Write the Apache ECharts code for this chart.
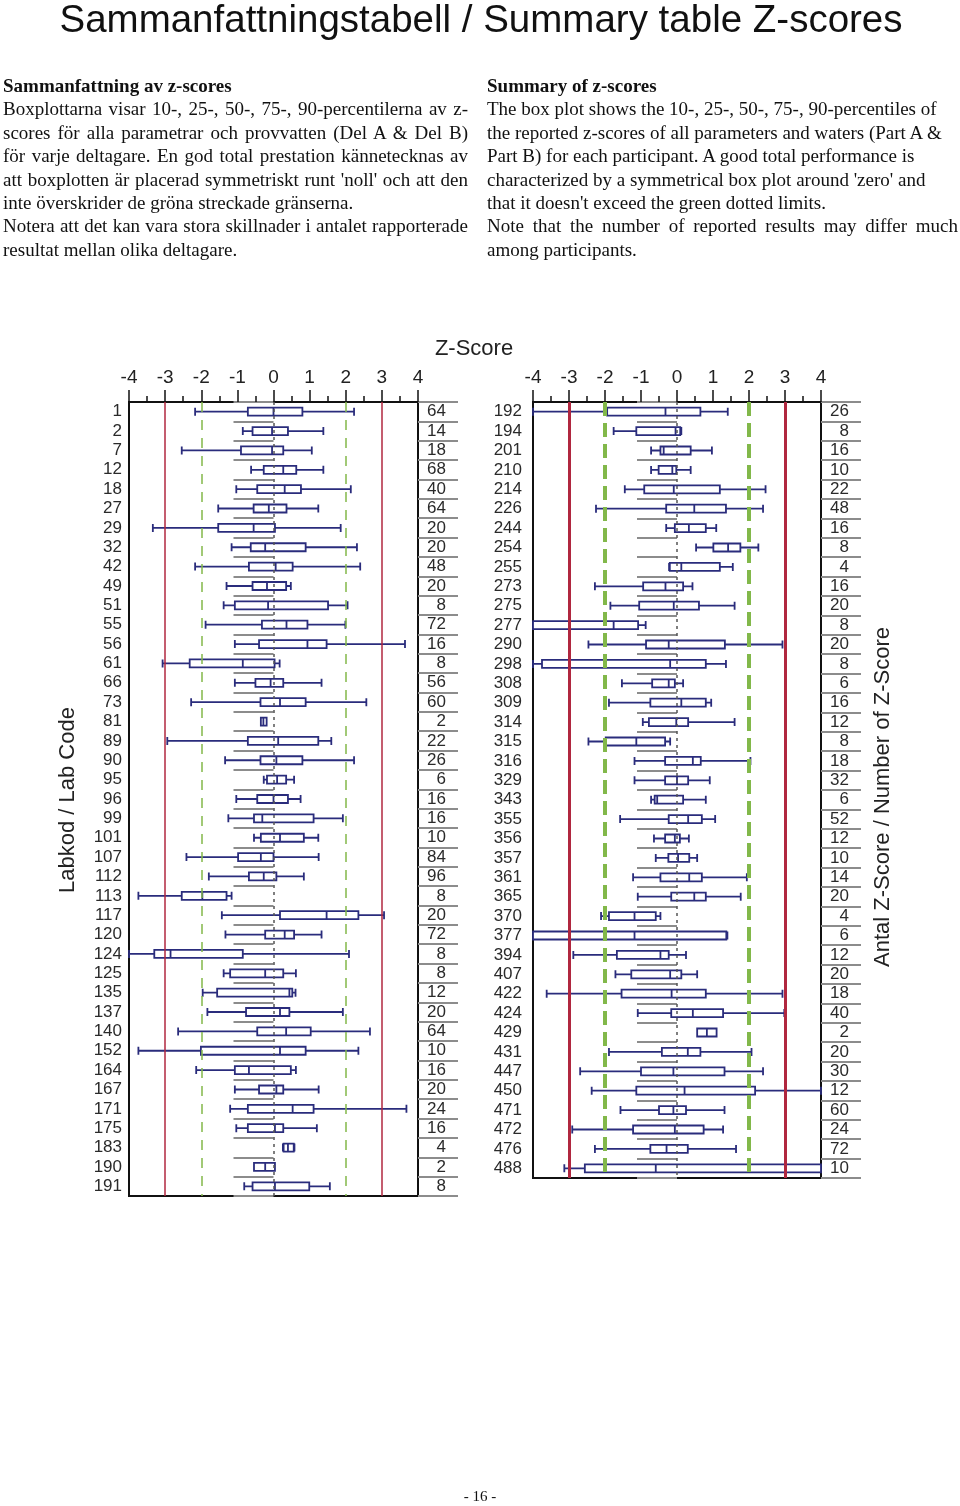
<!DOCTYPE html>
<html>
<head>
<meta charset="utf-8">
<script src="https://cdn.jsdelivr.net/npm/echarts@6/dist/echarts.min.js"></script>
<style>
  html, body { margin: 0; padding: 0; background: #fff; }
  body { width: 960px; height: 1506px; position: relative; overflow: hidden; }
  #chart { position: absolute; left: 0; top: 0; width: 960px; height: 1506px; }
  .title {
    position: absolute; left: 0; top: -4px; width: 962px; text-align: center;
    font-family: 'Liberation Sans', Arial, sans-serif; font-size: 38.5px; line-height: 46px; color: #111;
  }
  .col {
    position: absolute; top: 74px;
    font-family: 'Liberation Serif', 'Times New Roman', serif; font-size: 19px; line-height: 23.4px; color: #111;
  }
  .col div { white-space: nowrap; }
  .col .j { text-align: justify; text-align-last: justify; }
  .col .h { font-weight: bold; }
  .footer {
    position: absolute; left: 0; top: 1488px; width: 960px; text-align: center;
    font-family: 'Liberation Serif', 'Times New Roman', serif; font-size: 15px; color: #111;
  }
</style>
</head>
<body>
<div id="chart"></div>
<div class="title">Sammanfattningstabell / Summary table Z-scores</div>
<div class="col" style="left:3px; width:465px;">
  <div class="h">Sammanfattning av z-scores</div>
  <div class="j">Boxplottarna visar 10-, 25-, 50-, 75-, 90-percentilerna av z-</div>
  <div class="j">scores för alla parametrar och provvatten (Del A &amp; Del B)</div>
  <div class="j">för varje deltagare. En god total prestation kännetecknas av</div>
  <div class="j">att boxplotten är placerad symmetriskt runt 'noll' och att den</div>
  <div>inte överskrider de gröna streckade gränserna.</div>
  <div class="j">Notera att det kan vara stora skillnader i antalet rapporterade</div>
  <div>resultat mellan olika deltagare.</div>
</div>
<div class="col" style="left:487px; width:471px;">
  <div class="h">Summary of z-scores</div>
  <div>The box plot shows the 10-, 25-, 50-, 75-, 90-percentiles of</div>
  <div>the reported z-scores of all parameters and waters (Part A &amp;</div>
  <div>Part B) for each participant. A good total performance is</div>
  <div>characterized by a symmetrical box plot around 'zero' and</div>
  <div>that it doesn't exceed the green dotted limits.</div>
  <div class="j">Note that the number of reported results may differ much</div>
  <div>among participants.</div>
</div>
<div class="footer">- 16 -</div>

<script>
// lab codes, number of z-scores and [p10, p25, p50, p75, p90] per lab
const labCodesA = ['1', '2', '7', '12', '18', '27', '29', '32', '42', '49',
  '51', '55', '56', '61', '66', '73', '81', '89', '90', '95',
  '96', '99', '101', '107', '112', '113', '117', '120', '124', '125',
  '135', '137', '140', '152', '164', '167', '171', '175', '183', '190', '191']
const countsA = [64, 14, 18, 68, 40, 64, 20, 20, 48, 20,
  8, 72, 16, 8, 56, 60, 2, 22, 26, 6,
  16, 16, 10, 84, 96, 8, 20, 72, 8, 8,
  12, 20, 64, 10, 16, 20, 24, 16, 4, 2, 8]
const statsA = [
  [-2.17, -0.71, 0, 0.80, 2.23],
  [-0.85, -0.58, -0.04, 0.40, 1.38],
  [-2.54, -0.90, -0.04, 0.27, 1.06],
  [-0.62, -0.27, 0.27, 0.63, 1.38],
  [-1.03, -0.45, 0.31, 0.76, 2.14],
  [-1.53, -0.55, -0.13, 0.36, 1.24],
  [-3.34, -1.53, -0.55, 0.04, 1.86],
  [-1.16, -0.63, -0.23, 0.89, 2.31],
  [-2.17, -0.68, 0.06, 0.53, 2.40],
  [-1.30, -0.58, -0.18, 0.35, 0.48],
  [-1.38, -1.07, -0.15, 1.51, 2.05],
  [-1.88, -0.32, 0.36, 0.94, 1.99],
  [-1.07, -0.40, 0.94, 1.47, 3.64],
  [-3.07, -2.32, -0.85, 0.03, 0.17],
  [-1.07, -0.50, -0.08, 0.27, 1.33],
  [-2.28, -0.36, 0.18, 0.89, 2.57],
  [-0.35, -0.35, -0.28, -0.19, -0.19],
  [-2.94, -0.71, 0.13, 1.24, 1.60],
  [-1.34, -0.36, 0.08, 0.80, 2.23],
  [-0.27, -0.18, 0.10, 0.35, 0.57],
  [-1.03, -0.45, 0, 0.40, 0.75],
  [-1.25, -0.54, -0.31, 1.11, 1.92],
  [-0.54, -0.35, 0.18, 0.84, 1.24],
  [-2.41, -0.98, -0.35, 0, 1.25],
  [-1.79, -0.68, -0.27, 0.08, 0.84],
  [-3.74, -2.54, -1.97, -1.30, -1.16],
  [-1.43, 0.18, 1.47, 2.35, 3.06],
  [-1.33, -0.23, 0.31, 0.57, 1.33],
  [-4.0, -3.30, -2.85, -0.85, 2.09],
  [-1.38, -1.20, -0.23, 0.27, 0.62],
  [-1.96, -1.56, 0.44, 0.52, 0.61],
  [-1.83, -0.76, 0.18, 0.44, 1.92],
  [-2.64, -0.45, 0.35, 1.03, 2.67],
  [-3.74, -2.01, 0.18, 0.89, 2.35],
  [-2.14, -1.07, -0.68, 0.48, 0.62],
  [-1.07, -0.40, 0.08, 0.27, 1.25],
  [-1.20, -0.71, 0.53, 1.11, 3.68],
  [-1.03, -0.71, 0.04, 0.27, 1.20],
  [0.26, 0.28, 0.40, 0.56, 0.58],
  [-0.54, -0.54, -0.23, 0.04, 0.04],
  [-0.81, -0.58, 0.04, 0.99, 1.56],
]

const labCodesB = ['192', '194', '201', '210', '214', '226', '244', '254', '255', '273',
  '275', '277', '290', '298', '308', '309', '314', '315', '316', '329',
  '343', '355', '356', '357', '361', '365', '370', '377', '394', '407',
  '422', '424', '429', '431', '447', '450', '471', '472', '476', '488']
const countsB = [26, 8, 16, 10, 22, 48, 16, 8, 4, 16,
  20, 8, 20, 8, 6, 16, 12, 8, 18, 32,
  6, 52, 12, 10, 14, 20, 4, 6, 12, 20,
  18, 40, 2, 20, 30, 12, 60, 24, 72, 10]
const statsB = [
  [-4.0, -1.94, -0.32, 0.65, 1.41],
  [-1.76, -1.13, -0.04, 0.09, 0.12],
  [-0.72, -0.46, -0.37, 0.38, 0.97],
  [-0.72, -0.51, -0.13, -0.02, 0.38],
  [-1.45, -0.91, -0.09, 1.19, 2.46],
  [-2.25, -0.30, 0.48, 1.36, 2.39],
  [-0.30, -0.06, 0.33, 0.80, 1.09],
  [0.53, 1.01, 1.42, 1.76, 2.26],
  [-0.22, -0.20, 0.12, 1.19, 1.55],
  [-2.28, -0.94, -0.32, 0.17, 0.43],
  [-1.85, -1.05, -0.09, 0.61, 1.60],
  [-4.0, -4.0, -1.76, -1.08, -0.87],
  [-2.46, -0.86, -0.23, 1.33, 2.93],
  [-4.0, -3.75, -0.19, 0.80, 1.36],
  [-1.53, -0.69, -0.23, -0.06, 0.17],
  [-1.89, -0.74, 0.12, 0.80, 0.95],
  [-0.95, -0.78, -0.02, 0.31, 1.60],
  [-2.46, -1.98, -1.13, -0.33, -0.19],
  [-1.18, -0.33, 0.44, 0.66, 2.04],
  [-1.18, -0.33, 0, 0.31, 0.91],
  [-0.72, -0.62, -0.55, 0.17, 0.80],
  [-1.58, -0.23, 0.31, 0.69, 1.06],
  [-0.64, -0.33, -0.06, 0.08, 0.33],
  [-0.59, -0.24, 0.03, 0.34, 0.56],
  [-1.22, -0.46, 0.34, 0.69, 1.94],
  [-1.09, -0.16, 0.48, 0.80, 1.77],
  [-2.11, -1.89, -1.18, -0.59, -0.46],
  [-4.0, -4.0, -1.18, 1.37, 1.40],
  [-2.88, -1.67, -0.46, -0.23, 0.25],
  [-1.71, -1.27, -0.19, 0.12, 0.56],
  [-3.62, -1.54, -0.15, 0.80, 2.93],
  [-1.09, -0.16, 0.44, 1.28, 2.98],
  [0.56, 0.56, 0.83, 1.10, 1.10],
  [-1.89, -0.42, 0.30, 0.65, 2.07],
  [-2.69, -1.00, -0.10, 1.32, 2.39],
  [-2.37, -1.13, 0.21, 2.17, 4.0],
  [-1.57, -0.50, -0.10, 0.25, 1.32],
  [-2.91, -1.22, -0.06, 0.74, 1.28],
  [-2.28, -0.74, -0.29, 0.30, 1.64],
  [-3.13, -2.56, -0.59, 4.0, 4.0],
]

const redLimits = [-3, 3]
const greenLimits = [-2, 2]

const FONT = "'Liberation Sans', Arial, sans-serif"
const NAVY = '#2a2c7c'
const RED = '#b0273f'
const GREEN = '#82b84a'

const chart = echarts.init(document.getElementById('chart'), null, { renderer: 'canvas' })

const xAxisCfg = (gridIndex) => ({
  gridIndex,
  type: 'value',
  position: 'top',
  min: -4,
  max: 4,
  interval: 1,
  axisLine: { show: true, lineStyle: { color: '#111', width: 2 } },
  axisTick: { show: true, length: 12, lineStyle: { color: '#111', width: 1.5 } },
  minorTick: { show: true, splitNumber: 2, length: 6, lineStyle: { color: '#111', width: 1.5 } },
  axisLabel: { fontSize: 19, color: '#222', margin: 15, fontFamily: FONT },
  splitLine: { show: false },
})

const yAxisCfg = (gridIndex, codes, counts, side, margin) => ({
  gridIndex,
  type: 'category',
  data: codes,
  inverse: true,
  position: side,
  axisLine: { show: false },
  axisTick: { show: true, interval: 0, length: 40, lineStyle: { color: '#8c8c8c', width: 1.8 } },
  axisLabel: {
    interval: 0,
    fontSize: 17,
    color: '#2a2a2a',
    fontFamily: FONT,
    margin,
    align: 'right',
    formatter: side === 'right' ? (v, i) => String(counts[i]) : undefined,
  },
  splitLine: { show: false },
})

// vertical reference lines (limits and zero)
const refLines = (bold) => ({
  silent: true,
  symbol: ['none', 'none'],
  label: { show: false },
  data: [
    ...redLimits.map(v => ({ xAxis: v, lineStyle: { color: RED, width: bold ? 3 : 1.5, type: 'solid' } })),
    ...greenLimits.map(v => ({
      xAxis: v,
      lineStyle: { color: GREEN, width: bold ? 4 : 1.5, type: bold ? [14, 7] : [10, 8] },
    })),
    { xAxis: 0, lineStyle: { color: '#555', width: 1.5, type: [3, 4] } },
  ],
})

const boxSeries = (xi, yi, data, bold) => ({
  type: 'boxplot',
  xAxisIndex: xi,
  yAxisIndex: yi,
  boxWidth: [8, 8],
  itemStyle: { color: '#fff', borderColor: NAVY, borderWidth: 1.8 },
  data,
  markLine: refLines(bold),
})

const option = {
  animation: false,
  backgroundColor: '#fff',
  grid: [
    { left: 129, top: 402, width: 289, height: 794, show: true, borderColor: '#111', borderWidth: 2, backgroundColor: 'transparent', containLabel: false, outerBoundsMode: 'none' },
    { left: 533, top: 402, width: 288, height: 776, show: true, borderColor: '#111', borderWidth: 2, backgroundColor: 'transparent', containLabel: false, outerBoundsMode: 'none' },
  ],
  xAxis: [xAxisCfg(0), xAxisCfg(1)],
  yAxis: [
    yAxisCfg(0, labCodesA, countsA, 'left', 7),
    yAxisCfg(0, labCodesA, countsA, 'right', 28),
    yAxisCfg(1, labCodesB, countsB, 'left', 11),
    yAxisCfg(1, labCodesB, countsB, 'right', 28),
  ],
  series: [
    boxSeries(0, 0, statsA, false),
    boxSeries(1, 2, statsB, true),
  ],
  graphic: [
    { type: 'text', x: 474, y: 349, style: { text: 'Z-Score', font: `22px ${FONT}`, fill: '#222', align: 'center', verticalAlign: 'middle' } },
    { type: 'text', x: 68, y: 800, rotation: Math.PI / 2, style: { text: 'Labkod / Lab Code', font: `22px ${FONT}`, fill: '#222', align: 'center', verticalAlign: 'middle' } },
    { type: 'text', x: 883, y: 797, rotation: Math.PI / 2, style: { text: 'Antal Z-Score / Number of Z-Score', font: `22px ${FONT}`, fill: '#222', align: 'center', verticalAlign: 'middle' } },
  ],
}

chart.setOption(option)
</script>
</body>
</html>
